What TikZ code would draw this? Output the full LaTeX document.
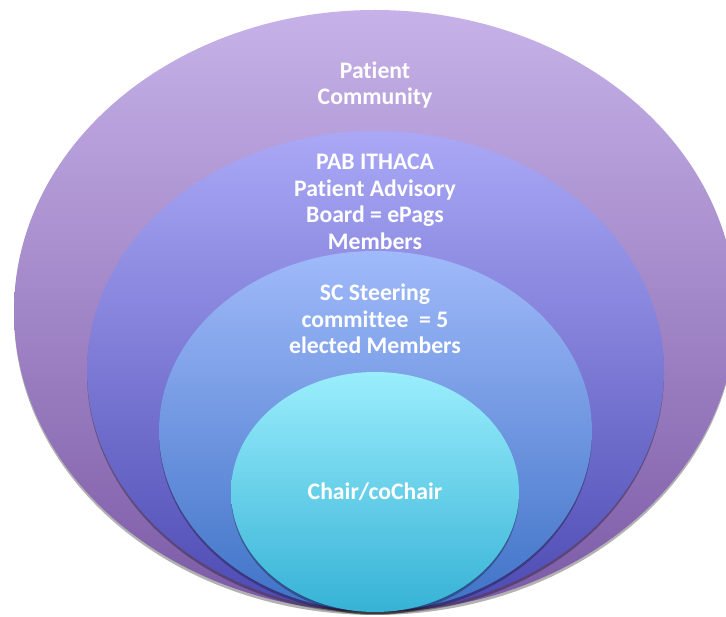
\documentclass[tikz,border=0pt]{standalone}
\usepackage{fontspec}
\setmainfont[RawFeature={-liga;-clig;-calt;-dlig;-rlig}]{Carlito}
\usetikzlibrary{shapes.geometric,shadows}
\definecolor{cAt}{HTML}{C6B2E8}\definecolor{cAb}{HTML}{7C5AA6}
\definecolor{cBt}{HTML}{AAA8F6}\definecolor{cBb}{HTML}{4C4AB2}
\definecolor{cCt}{HTML}{A0BAFA}\definecolor{cCb}{HTML}{3E72C6}
\definecolor{cDt}{HTML}{9AEEFC}\definecolor{cDb}{HTML}{36B2D6}
\newcommand{\nolig}{\kern0pt\relax}
\tikzset{
  ring/.style={ellipse, inner sep=0pt, draw=none,
    drop shadow={shadow xshift=0pt, shadow yshift=-3pt, opacity=0.3, fill=black}},
  lbl/.style={text=white, font=\bfseries\fontsize{23.7}{26.5}\selectfont, align=center, inner sep=0pt}
}
\begin{document}
\begin{tikzpicture}[x=1pt,y=-1pt]
\fill[white] (0,0) rectangle (726,617);
\useasboundingbox (0,0) rectangle (726,617);
\node[ring, minimum width=722pt, minimum height=602pt, top color=cAt, bottom color=cAb] (community) at (375,311) {};
\node[ring, minimum width=577pt, minimum height=480pt, top color=cBt, bottom color=cBb] (pab) at (375.5,371) {};
\node[ring, minimum width=433pt, minimum height=360pt, top color=cCt, bottom color=cCb] (sc) at (375.5,431) {};
\node[ring, minimum width=288pt, minimum height=240pt, top color=cDt, bottom color=cDb] (chair) at (375,492) {};
\node[lbl] (tcommunity) at (375,85) {Pat\nolig ient\\Community};
\node[lbl] (tpab) at (375,202) {PAB ITHACA\\Pat\nolig ient Advisory\\Board = ePags\\Members};
\node[lbl] (tsc) at (375,319) {SC Steering\\commit\nolig tee \ = 5\\elected Members};
\node[lbl] (tchair) at (375,492) {Chair/coChair};
\end{tikzpicture}
\end{document}
